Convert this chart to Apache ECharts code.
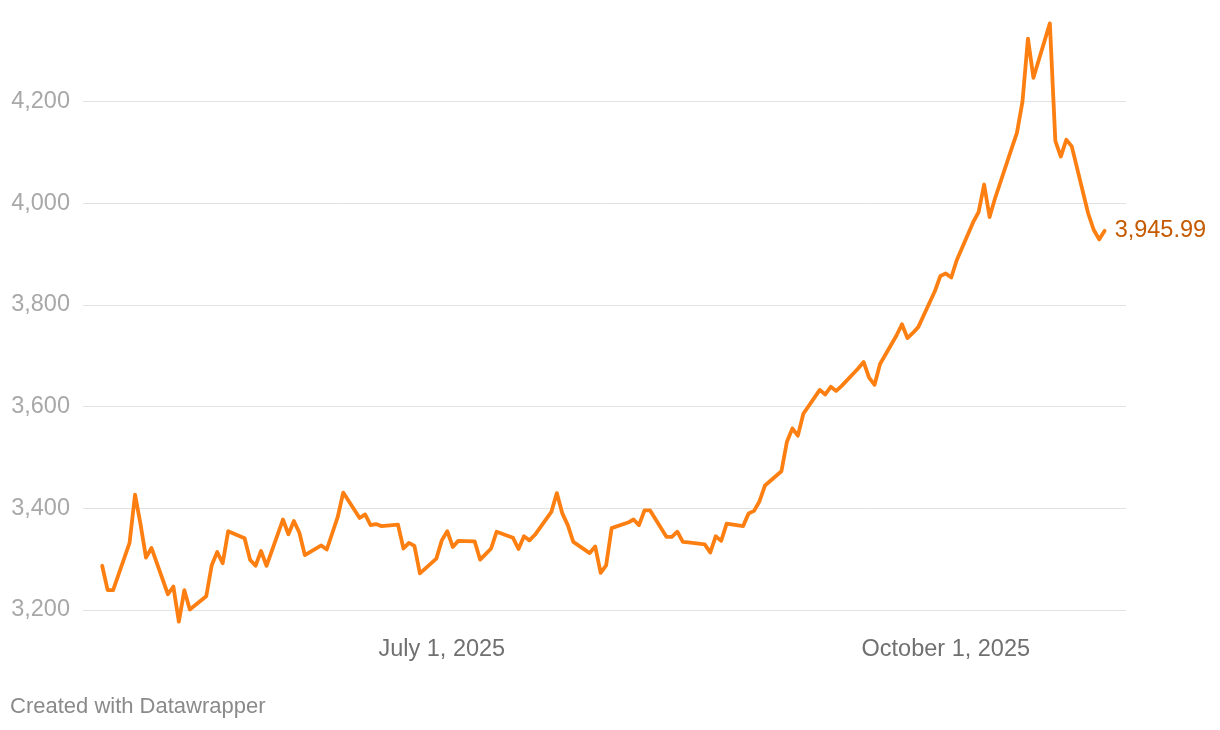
<!DOCTYPE html>
<html>
<head>
<meta charset="utf-8">
<script src="https://cdn.jsdelivr.net/npm/echarts@6/dist/echarts.min.js"></script>
<style>
html,body{margin:0;padding:0;background:#fff;}
#chart{width:1220px;height:730px;}
</style>
</head>
<body>
<div id="chart"></div>
<script>
// ---- data ----
var dates = [
'2025-04-30','2025-05-01','2025-05-02','2025-05-05','2025-05-06','2025-05-07','2025-05-08','2025-05-09',
'2025-05-12','2025-05-13','2025-05-14','2025-05-15','2025-05-16','2025-05-19','2025-05-20','2025-05-21',
'2025-05-22','2025-05-23','2025-05-26','2025-05-27','2025-05-28','2025-05-29','2025-05-30','2025-06-02',
'2025-06-03','2025-06-04','2025-06-05','2025-06-06','2025-06-09','2025-06-10','2025-06-11','2025-06-12',
'2025-06-13','2025-06-16','2025-06-17','2025-06-18','2025-06-19','2025-06-20','2025-06-23','2025-06-24',
'2025-06-25','2025-06-26','2025-06-27','2025-06-30','2025-07-01','2025-07-02','2025-07-03','2025-07-04',
'2025-07-07','2025-07-08','2025-07-09','2025-07-10','2025-07-11','2025-07-14','2025-07-15','2025-07-16',
'2025-07-17','2025-07-18','2025-07-21','2025-07-22','2025-07-23','2025-07-24','2025-07-25','2025-07-28',
'2025-07-29','2025-07-30','2025-07-31','2025-08-01','2025-08-04','2025-08-05','2025-08-06','2025-08-07',
'2025-08-08','2025-08-11','2025-08-12','2025-08-13','2025-08-14','2025-08-15','2025-08-18','2025-08-19',
'2025-08-20','2025-08-21','2025-08-22','2025-08-25','2025-08-26','2025-08-27','2025-08-28','2025-08-29',
'2025-09-01','2025-09-02','2025-09-03','2025-09-04','2025-09-05','2025-09-08','2025-09-09','2025-09-10',
'2025-09-11','2025-09-12','2025-09-15','2025-09-16','2025-09-17','2025-09-18','2025-09-19','2025-09-22',
'2025-09-23','2025-09-24','2025-09-25','2025-09-26','2025-09-29','2025-09-30','2025-10-01','2025-10-02',
'2025-10-03','2025-10-06','2025-10-07','2025-10-08','2025-10-09','2025-10-10','2025-10-13','2025-10-14',
'2025-10-15','2025-10-16','2025-10-17','2025-10-20','2025-10-21','2025-10-22','2025-10-23','2025-10-24',
'2025-10-27','2025-10-28','2025-10-29','2025-10-30'
];
var prices = [
3287,3239,3239,3332,3427,3369,3303,3322,
3231,3246,3177,3239,3201,3227,3288,3314,
3292,3355,3341,3299,3287,3316,3287,3378,
3349,3375,3352,3308,3327,3319,3351,3383,
3431,3381,3388,3367,3369,3365,3368,3321,
3332,3326,3272,3301,3337,3355,3324,3336,
3335,3299,3310,3321,3354,3342,3320,3345,
3337,3348,3393,3430,3390,3367,3334,3312,
3325,3273,3288,3361,3372,3378,3367,3396,
3396,3344,3344,3354,3334,3333,3329,3313,
3345,3336,3370,3365,3390,3395,3414,3445,
3473,3531,3557,3543,3586,3633,3624,3639,
3631,3641,3675,3688,3657,3643,3684,3740,
3762,3735,3745,3757,3827,3857,3862,3854,
3888,3963,3983,4037,3973,4010,4107,4139,
4200,4324,4247,4354,4123,4092,4125,4112,
3980,3948,3929,3945.99
];
var yTicks = [3200, 3400, 3600, 3800, 4000, 4200];
var xTickDates = ['2025-07-01', '2025-10-01'];
var xTickLabels = ['July 1, 2025', 'October 1, 2025'];

// ---- helpers ----
var DAY = 86400000;
function ts(s) { var p = s.split('-'); return Date.UTC(+p[0], +p[1] - 1, +p[2]); }
function fmt(v, d) {
  return Number(v).toLocaleString('en-US', {minimumFractionDigits: d, maximumFractionDigits: d});
}
var seriesData = dates.map(function (d, i) { return [ts(d), prices[i]]; });
var xTickTs = xTickDates.map(ts);
var jul1 = ts('2025-07-01');
var FONT = 'Liberation Sans, Arial, sans-serif';

var chart = echarts.init(document.getElementById('chart'));
chart.setOption({
  animation: false,
  backgroundColor: '#ffffff',
  grid: { left: 83, right: 94, top: -2, bottom: 120, containLabel: false },
  xAxis: {
    type: 'value',
    min: jul1 - 65.5 * DAY,
    max: jul1 + 124.9 * DAY,
    axisLine: { show: false },
    axisTick: { show: false },
    splitLine: { show: false },
    axisLabel: {
      customValues: xTickTs,
      margin: 28,
      color: '#707070',
      fontSize: 23.5,
      fontFamily: FONT,
      formatter: function (v) {
        for (var i = 0; i < xTickTs.length; i++) {
          if (Math.abs(xTickTs[i] - v) < DAY / 2) return xTickLabels[i];
        }
        return '';
      }
    }
  },
  yAxis: {
    type: 'value',
    min: 3200,
    max: 4400,
    interval: 200,
    axisLine: { show: false },
    axisTick: { show: false },
    splitLine: {
      show: true,
      lineStyle: {
        color: ['#e2e2e2', '#e2e2e2', '#e2e2e2', '#e2e2e2', '#e2e2e2', '#e2e2e2', 'rgba(0,0,0,0)'],
        width: 1
      }
    },
    axisLabel: {
      margin: 13,
      color: '#a8a8a8',
      fontSize: 23.5,
      fontFamily: FONT,
      formatter: function (v) { return yTicks.indexOf(v) >= 0 ? fmt(v, 0) : ''; }
    }
  },
  series: [{
    type: 'line',
    data: seriesData,
    symbol: 'none',
    clip: false,
    lineStyle: { color: '#fd7f11', width: 3.8, join: 'round', cap: 'round' },
    endLabel: {
      show: true,
      distance: 10,
      color: '#c55a00',
      fontSize: 23.5,
      fontFamily: FONT,
      formatter: function (p) { return fmt(p.value[1], 2); }
    }
  }],
  graphic: [{
    type: 'text',
    left: 10,
    top: 696,
    style: {
      text: 'Created with Datawrapper',
      fill: '#8a8a8a',
      fontSize: 22,
      fontFamily: FONT
    }
  }]
});
</script>
</body>
</html>
